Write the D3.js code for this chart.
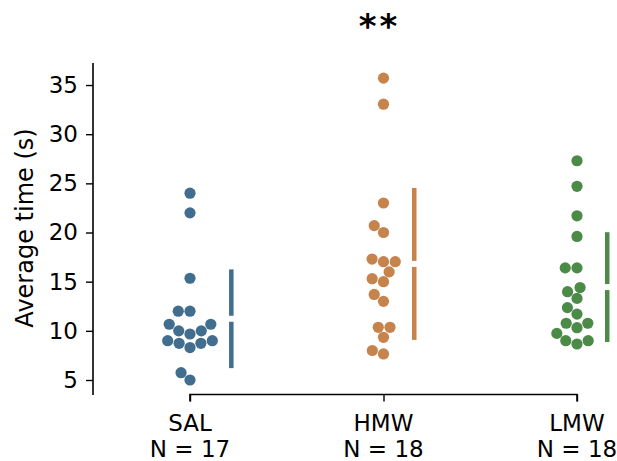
<!DOCTYPE html>
<html>
<head>
<meta charset="utf-8">
<script src="https://cdn.jsdelivr.net/npm/d3@7"></script>
<style>
  body { margin: 0; background: #fff; }
  text { font-family: "DejaVu Sans", sans-serif; fill: #000; }
</style>
</head>
<body>
<div id="chart"></div>
<script>
// data
const groups = ['SAL', 'HMW', 'LMW'];
const colors = ['#416e8f', '#c6834b', '#4b8b47'];
const salTimes = [24.0, 22.0, 15.35, 12.0, 12.0, 10.67, 10.67, 10.0, 10.0, 9.68, 9.0, 9.0, 8.73, 8.73, 8.3, 5.74, 5.0];
const hmwTimes = [35.7, 33.05, 23.0, 20.7, 20.0, 17.03, 17.03, 17.3, 16.0, 15.3, 15.0, 13.7, 13.0, 10.36, 10.36, 9.34, 8.0, 7.65];
const lmwTimes = [27.3, 24.7, 21.7, 19.6, 16.4, 16.4, 14.4, 13.98, 13.3, 12.36, 11.7, 10.77, 10.32, 10.77, 9.74, 9.0, 8.66, 9.0];
const yTicks = [5, 10, 15, 20, 25, 30, 35];
const significance = '**';

const allTimes = [salTimes, hmwTimes, lmwTimes];

const width = 617, height = 461;
const r = 5.6;
const fontSize = '23px';

const svg = d3.select('#chart').append('svg')
    .attr('width', width).attr('height', height);

// scales
const x = d3.scalePoint().domain(groups).range([190, 577]);
const y = d3.scaleLinear().domain([3.576, 37.24]).range([394, 63]);

// seaborn-like beeswarm, pixel space
function swarm(values, cx) {
    const pts = values.map(v => ({ v: v, y: y(v), x: cx }))
        .sort((a, b) => b.y - a.y);
    const placed = [];
    pts.forEach(p => {
        const neighbors = [];
        for (let j = placed.length - 1; j >= 0; j--) {
            if (Math.abs(p.y - placed[j].y) < 2 * r) neighbors.unshift(placed[j]);
            else break;
        }
        const cands = [cx];
        let leftFirst = true;
        neighbors.forEach(n => {
            const dy = p.y - n.y;
            const dx = Math.sqrt(Math.max(4 * r * r - dy * dy, 0)) * 1.05;
            if (leftFirst) cands.push(n.x - dx, n.x + dx);
            else cands.push(n.x + dx, n.x - dx);
            leftFirst = !leftFirst;
        });
        const sorted = cands.map((c, i) => ({ c, i }))
            .sort((a, b) => Math.abs(a.c - cx) - Math.abs(b.c - cx) || a.i - b.i);
        for (const s of sorted) {
            const ok = neighbors.every(n => (n.x - s.c) ** 2 + (n.y - p.y) ** 2 >= 4 * r * r - 1e-6);
            if (ok) { p.x = s.c; break; }
        }
        placed.push(p);
    });
    return placed;
}

// spines
svg.append('line')
    .attr('x1', 93).attr('x2', 93)
    .attr('y1', y.range()[1]).attr('y2', y.range()[0] + 1)
    .attr('stroke', '#000').attr('stroke-width', 1.6);

const yAxis = d3.axisLeft(y).tickValues(yTicks).tickSize(7).tickPadding(8);
const yAxisDraw = svg.append('g').attr('transform', 'translate(93,0)').call(yAxis);
yAxisDraw.select('.domain').remove();
yAxisDraw.selectAll('.tick line').attr('stroke-width', 1.4);
yAxisDraw.selectAll('.tick text')
    .style('font-size', fontSize).style('font-family', '"DejaVu Sans", sans-serif')
    .attr('fill', '#000');

const xAxis = d3.axisBottom(x).tickSize(7).tickFormat('');
const xAxisDraw = svg.append('g').attr('transform', 'translate(0,394.5)').call(xAxis);
xAxisDraw.select('.domain')
    .attr('d', `M${x.range()[0]},7V0H${x.range()[1]}V7`)
    .attr('stroke-width', 1.6);
xAxisDraw.selectAll('.tick line').attr('stroke-width', 1.4);

// category labels
groups.forEach((g, i) => {
    const t = svg.append('text')
        .attr('x', x(g)).attr('text-anchor', 'middle')
        .style('font-size', fontSize);
    t.append('tspan').attr('x', x(g)).attr('y', 431).text(g);
    t.append('tspan').attr('x', x(g)).attr('y', 456.5).text('N = ' + allTimes[i].length);
});

// y label
svg.append('text')
    .attr('transform', 'translate(33,228) rotate(-90)')
    .attr('text-anchor', 'middle')
    .style('font-size', '24px')
    .text('Average time (s)');

// dots + mean/sd bars
groups.forEach((g, i) => {
    const pts = swarm(allTimes[i], x(g));
    svg.append('g').selectAll('circle').data(pts).join('circle')
        .attr('cx', d => d.x).attr('cy', d => d.y).attr('r', r)
        .attr('fill', colors[i]);

    const mean = d3.mean(allTimes[i]);
    const sd = d3.deviation(allTimes[i]);
    const maxRight = d3.max(pts, d => d.x - x(g));
    const bx = x(g) + maxRight + 19;
    const gap = 3;
    const bars = [[y(mean + sd), y(mean) - gap], [y(mean) + gap, y(mean - sd)]];
    svg.append('g').selectAll('line').data(bars).join('line')
        .attr('x1', bx).attr('x2', bx)
        .attr('y1', d => d[0]).attr('y2', d => d[1])
        .attr('stroke', colors[i]).attr('stroke-width', 4.5);
});

// significance
svg.append('text')
    .attr('x', x('HMW') - 4).attr('y', 38)
    .attr('text-anchor', 'middle')
    .style('font-size', '34px').style('font-weight', 'bold')
    .style('letter-spacing', '3px')
    .text(significance);
</script>
</body>
</html>
